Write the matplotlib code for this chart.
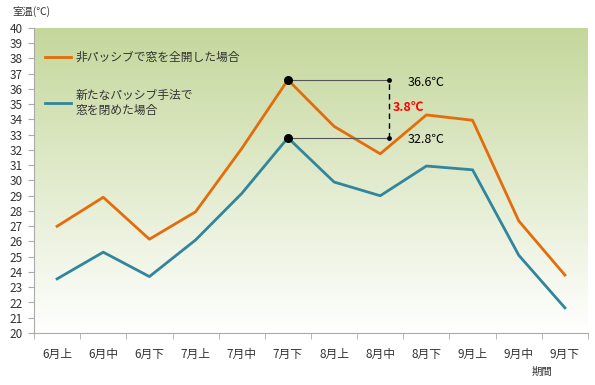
import numpy as np
import matplotlib.pyplot as plt
from matplotlib.colors import LinearSegmentedColormap

plt.rcParams['font.family'] = ['Noto Sans CJK JP', 'DejaVu Sans']

periods = ['6月上', '6月中', '6月下', '7月上', '7月中', '7月下',
           '8月上', '8月中', '8月下', '9月上', '9月中', '9月下']
open_window = [27.0, 28.9, 26.15, 27.95, 32.1, 36.6, 33.55, 31.75, 34.3, 33.95, 27.35, 23.8]
closed_window = [23.55, 25.3, 23.7, 26.1, 29.15, 32.8, 29.9, 29.0, 30.95, 30.7, 25.1, 21.65]
label_open = '非パッシブで窓を全開した場合'
label_closed = '新たなパッシブ手法で\n窓を閉めた場合'

orange = '#e46c0a'
blue = '#31859c'

fig = plt.figure(figsize=(5.95, 3.85), dpi=100)
ax = fig.add_axes([34 / 595, 1 - 333 / 385, 554 / 595, 305 / 385])

# gradient background
cmap = LinearSegmentedColormap.from_list('bg', ['#ffffff', '#c4d79b'])
grad = np.linspace(0, 1, 256).reshape(-1, 1)
ax.imshow(grad, cmap=cmap, aspect='auto', origin='lower',
          extent=[0, 1, 0, 1], transform=ax.transAxes, zorder=0)

x = np.arange(len(periods))
ax.plot(x, open_window, color=orange, lw=2, label=label_open, zorder=3)
ax.plot(x, closed_window, color=blue, lw=2, label=label_closed, zorder=3)

# annotation of the peak difference
i_peak = 5
x_mark = 7.2
hi = open_window[i_peak]
lo = closed_window[i_peak]
ax.scatter([i_peak, i_peak], [hi, lo], color='black', s=30, zorder=5)
ax.plot([i_peak, x_mark], [hi, hi], color='#555555', lw=0.8, zorder=4)
ax.plot([i_peak, x_mark], [lo, lo], color='#555555', lw=0.8, zorder=4)
ax.plot([x_mark, x_mark], [lo, hi], color='black', lw=1, ls=(0, (4, 3)), zorder=4)
ax.scatter([x_mark, x_mark], [hi, lo], color='black', s=6, zorder=5)
ax.text(x_mark + 0.4, hi - 0.2, f'{hi:.1f}℃', va='center', ha='left', fontsize=9)
ax.text(x_mark + 0.4, lo - 0.1, f'{lo:.1f}℃', va='center', ha='left', fontsize=9)
ax.text(x_mark + 0.08, (hi + lo) / 2 + 0.1, f'{hi - lo:.1f}℃', va='center', ha='left',
        fontsize=9, color='red', fontweight='bold')

ax.set_xlim(-0.5, len(periods) - 0.5)
ax.set_ylim(20, 40)
ax.set_yticks(range(20, 41))
ax.set_xticks(x)
ax.set_xticklabels(periods)
ax.set_xticks(np.arange(-0.5, len(periods)), minor=True)
ax.tick_params(axis='x', which='major', length=0, pad=11, labelsize=8.5, colors='#333333')
ax.tick_params(axis='x', which='minor', length=4, color='#aaaaaa', direction='out')
ax.tick_params(axis='y', length=4, color='#aaaaaa', labelsize=8.5, colors='#333333', pad=4)
for s in ['top', 'right']:
    ax.spines[s].set_visible(False)
for s in ['left', 'bottom']:
    ax.spines[s].set_color('#aaaaaa')

leg = ax.legend(loc='upper left', bbox_to_anchor=(0.0, 0.96), frameon=False,
                fontsize=8.5, handlelength=2.2, handletextpad=0.4, labelspacing=2.1)
for t in leg.get_texts():
    t.set_color('#333333')

fig.text(12 / 595, 1 - 11 / 385, '室温(℃)', fontsize=7.5, va='center', ha='left', color='#333333')
fig.text(542 / 595, 1 - 372 / 385, '期間', fontsize=7.5, va='center', ha='center', color='#333333')

fig.savefig('out.png', dpi=100)
